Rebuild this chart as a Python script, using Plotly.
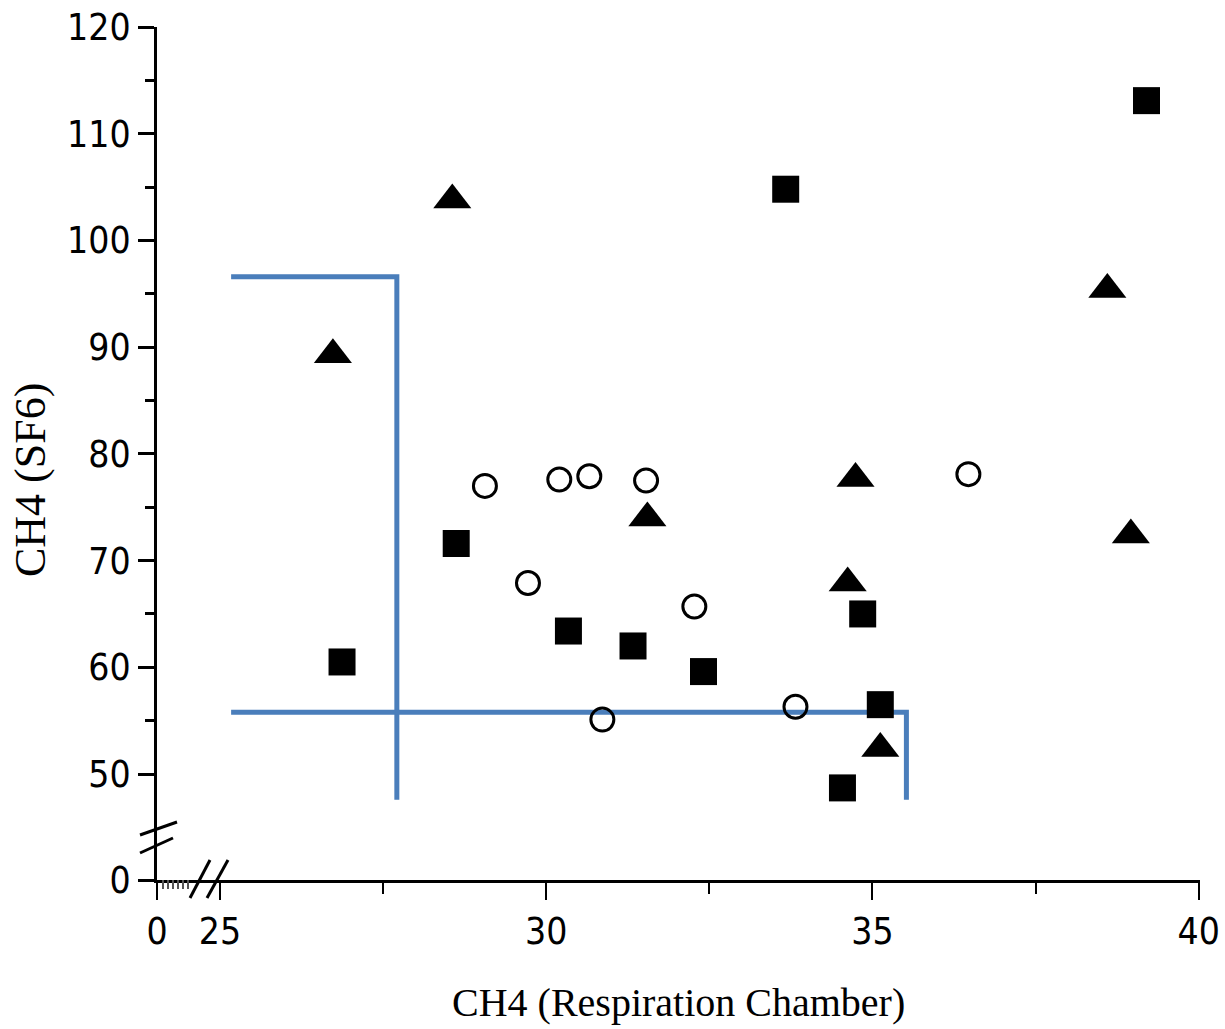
import plotly.graph_objects as go

# ---- data ----
tri_x = [28.56, 26.73, 31.55, 34.74, 34.62, 35.12, 38.60, 38.96]
tri_y = [103.8, 89.3, 74.0, 77.7, 67.9, 52.4, 95.4, 72.4]

sq_x = [26.87, 28.62, 30.34, 31.33, 32.41, 33.67, 34.85, 35.12, 34.54, 39.20]
sq_y = [60.5, 71.6, 63.4, 62.0, 59.6, 104.8, 65.0, 56.5, 48.7, 113.1]

circ_x = [29.06, 29.72, 30.20, 30.66, 31.53, 30.86, 32.27, 33.82, 36.47]
circ_y = [77.0, 67.9, 77.6, 77.9, 77.5, 55.1, 65.7, 56.3, 78.1]

# blue guide lines
guide1_x = [25.17, 27.71, 27.71]
guide1_y = [96.6, 96.6, 47.6]
guide2_x = [25.17, 35.52, 35.52]
guide2_y = [55.8, 55.8, 47.6]

# axis ticks (broken axes: the "0" sits just below/left of the break)
y_zero_pos = 40.07
x_zero_pos = 24.034
y_tickvals = [y_zero_pos, 50, 60, 70, 80, 90, 100, 110, 120]
y_ticktext = ["0", "50", "60", "70", "80", "90", "100", "110", "120"]
y_minor = [55, 65, 75, 85, 95, 105, 115]
x_tickvals = [x_zero_pos, 25, 30, 35, 40]
x_ticktext = ["0", "25", "30", "35", "40"]
x_minor = [27.5, 32.5, 37.5]

tick_font = dict(family="Liberation Sans Narrow, Arial Narrow, DejaVu Sans Condensed, Liberation Sans, sans-serif",
                 size=37, color="black")
title_font = "Liberation Serif, Times New Roman, serif"

fig = go.Figure()

blue = "#4a7ebb"
fig.add_trace(go.Scatter(x=guide1_x, y=guide1_y, mode="lines",
                         line=dict(color=blue, width=5), hoverinfo="skip"))
fig.add_trace(go.Scatter(x=guide2_x, y=guide2_y, mode="lines",
                         line=dict(color=blue, width=5), hoverinfo="skip"))

fig.add_trace(go.Scatter(x=sq_x, y=sq_y, mode="markers",
                         marker=dict(symbol="square", size=27, color="black",
                                     line=dict(width=0))))
fig.add_trace(go.Scatter(x=tri_x, y=tri_y, mode="markers",
                         marker=dict(symbol="triangle-up", size=33, color="black",
                                     line=dict(width=0))))
fig.add_trace(go.Scatter(x=circ_x, y=circ_y, mode="markers",
                         marker=dict(symbol="circle-open", size=23, color="black",
                                     line=dict(width=3, color="black"))))

L, R, T, B = 157, 25, 27, 149
W, H = 1225, 1029
PW, PH = W - L - R, H - T - B


def px_to_paper_x(px):
    return (px - L) / PW


def px_to_paper_y(py):
    return (H - B - py) / PH


shapes = []
# break slashes
for (ax0, ay0, ax1, ay1) in [(140, 835, 177, 822), (140, 853, 173, 838),
                              (190, 898, 210, 860), (207, 898, 228, 860)]:
    shapes.append(dict(type="line", xref="paper", yref="paper",
                       x0=px_to_paper_x(ax0), y0=px_to_paper_y(ay0),
                       x1=px_to_paper_x(ax1), y1=px_to_paper_y(ay1),
                       line=dict(color="black", width=3)))
# small hatching near origin
for hx in [163, 168, 173, 178, 183, 188]:
    shapes.append(dict(type="line", xref="paper", yref="paper",
                       x0=px_to_paper_x(hx), y0=px_to_paper_y(880),
                       x1=px_to_paper_x(hx), y1=px_to_paper_y(889),
                       line=dict(color="#555555", width=2)))

fig.update_layout(
    width=W, height=H,
    margin=dict(l=L, r=R, t=T, b=B, autoexpand=False),
    paper_bgcolor="white", plot_bgcolor="white",
    showlegend=False,
    shapes=shapes,
    xaxis=dict(range=[x_zero_pos, 40.02], showgrid=False, zeroline=False, automargin=False,
               showline=True, linecolor="black", linewidth=3,
               tickmode="array", tickvals=x_tickvals, ticktext=x_ticktext,
               ticks="outside", ticklen=17, tickwidth=2, tickcolor="black",
               tickfont=tick_font,
               minor=dict(tickmode="array", tickvals=x_minor, ticks="outside",
                          ticklen=11, tickwidth=2, tickcolor="black", showgrid=False)),
    yaxis=dict(range=[y_zero_pos, 120.0], showgrid=False, zeroline=False, automargin=False,
               showline=True, linecolor="black", linewidth=3,
               tickmode="array", tickvals=y_tickvals, ticktext=y_ticktext,
               ticks="outside", ticklen=16, tickwidth=3, tickcolor="black",
               tickfont=tick_font,
               minor=dict(tickmode="array", tickvals=y_minor, ticks="outside",
                          ticklen=9, tickwidth=3, tickcolor="black", showgrid=False)),
    annotations=[
        dict(text="CH4 (Respiration Chamber)", xref="paper", yref="paper",
             x=px_to_paper_x(678), y=px_to_paper_y(1002), xanchor="center", yanchor="middle",
             showarrow=False, font=dict(family=title_font, size=40, color="black")),
        dict(text="CH4 (SF6)", xref="paper", yref="paper", textangle=-90,
             x=px_to_paper_x(30), y=px_to_paper_y(480), xanchor="center", yanchor="middle",
             showarrow=False, font=dict(family=title_font, size=44, color="black")),
    ],
)

fig.write_html("out.html")
